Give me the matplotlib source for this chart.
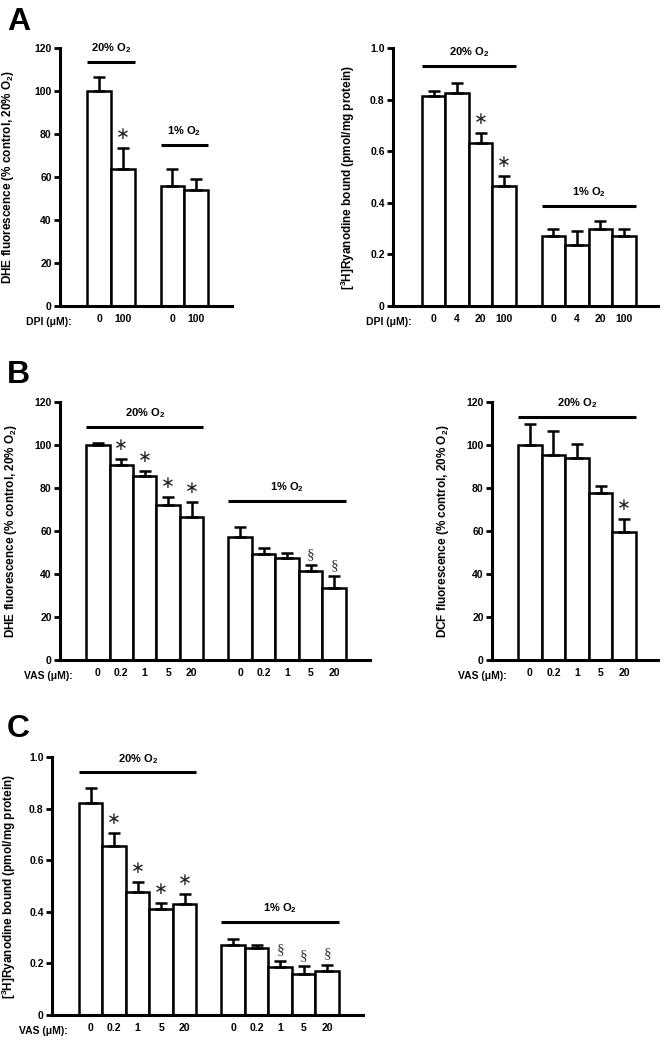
import numpy as np
import matplotlib.pyplot as plt

plt.rcParams['font.family'] = ['Liberation Sans', 'DejaVu Sans']
plt.rcParams['font.weight'] = 'bold'
plt.rcParams['axes.labelweight'] = 'bold'
plt.rcParams['mathtext.fontset'] = 'custom'
plt.rcParams['mathtext.rm'] = 'Liberation Sans:bold'
plt.rcParams['mathtext.bf'] = 'Liberation Sans:bold'
plt.rcParams['mathtext.default'] = 'bf'

# --- data ---
# A, left: DHE fluorescence vs DPI
a1_labels = ['0', '100']
a1_hi = [100, 63.5]
a1_hi_err = [6.5, 10]
a1_lo = [56, 54]
a1_lo_err = [7.5, 5]

# A, right: [3H]ryanodine binding vs DPI
a2_labels = ['0', '4', '20', '100']
a2_hi = [0.815, 0.825, 0.63, 0.465]
a2_hi_err = [0.02, 0.04, 0.04, 0.04]
a2_lo = [0.27, 0.235, 0.30, 0.27]
a2_lo_err = [0.03, 0.055, 0.028, 0.03]

# B, left: DHE fluorescence vs VAS
b1_labels = ['0', '0.2', '1', '5', '20']
b1_hi = [100, 90.5, 85.5, 72, 66.5]
b1_hi_err = [1, 3, 2.5, 4, 7]
b1_lo = [57, 49.5, 47.5, 41.5, 33.5]
b1_lo_err = [5, 2.5, 2.5, 2.5, 5.5]

# B, right: DCF fluorescence vs VAS
b2_labels = ['0', '0.2', '1', '5', '20']
b2_hi = [100, 95.5, 94, 77.5, 59.5]
b2_hi_err = [10, 11, 6.5, 3.5, 6]

# C: [3H]ryanodine binding vs VAS
c_labels = ['0', '0.2', '1', '5', '20']
c_hi = [0.82, 0.655, 0.475, 0.41, 0.43]
c_hi_err = [0.06, 0.05, 0.04, 0.025, 0.04]
c_lo = [0.27, 0.26, 0.185, 0.16, 0.17]
c_lo_err = [0.025, 0.012, 0.025, 0.028, 0.025]

HI = '20% O$_2$'
LO = '1% O$_2$'
DHE = 'DHE fluorescence (% control, 20% O$_2$)'
DCF = 'DCF fluorescence (% control, 20% O$_2$)'
RYA = '[$^3$H]Ryanodine bound (pmol/mg protein)'


def draw(ax, groups, ticklabels, ymax, step, ylabel, xname, name_x, ylab_x,
         pct=True, offset=1.15, gap=1.07, tail=1.0):
    x0 = 0
    centers = []
    for vals, errs, title, line_y, marks, sym in groups:
        n = len(vals)
        pos = x0 + np.arange(n)
        ax.bar(pos, vals, width=1, align='edge', color='white',
               edgecolor='black', lw=1.8, zorder=2)
        ax.errorbar(pos + 0.5, vals, yerr=[np.zeros(n), errs], fmt='none',
                    ecolor='black', elinewidth=1.8, capsize=4, capthick=1.8,
                    zorder=3)
        for i in marks:
            if sym == '*':
                # asterisk operator: thin six-armed star like the original
                ax.annotate('∗', (pos[i] + 0.5, vals[i] + errs[i]),
                            xytext=(0, 10), textcoords='offset points',
                            ha='center', va='center', fontsize=12,
                            fontweight='normal', family='DejaVu Sans',
                            color='#222222')
            else:
                ax.annotate('§', (pos[i] + 0.5, vals[i] + errs[i]),
                            xytext=(0, 3), textcoords='offset points',
                            ha='center', va='bottom', fontsize=11,
                            fontweight='normal', color='#333333',
                            family='Liberation Serif')
        ax.plot([pos[0], pos[-1] + 1], [line_y, line_y], color='black',
                lw=2.2, clip_on=False, solid_capstyle='butt')
        ax.annotate(title, ((pos[0] + pos[-1] + 1) / 2, line_y),
                    xytext=(0, 5), textcoords='offset points',
                    ha='center', va='bottom', fontsize=8)
        centers += list(pos + 0.5)
        x0 = pos[-1] + 1 + gap
    x_end = x0 - gap
    ax.set_xlim(-offset, x_end + tail)
    ax.set_ylim(0, ymax)
    ticks = np.arange(0, ymax + step / 2, step)
    ax.set_yticks(ticks)
    if pct:
        ax.set_yticklabels([f'{t:g}' for t in ticks])
    else:
        ax.set_yticklabels(['0'] + [f'{t:.1f}' for t in ticks[1:]])
    ax.set_xticks(centers)
    ax.set_xticklabels(ticklabels * (len(centers) // len(ticklabels)))
    ax.tick_params(axis='x', length=0, pad=6, labelsize=7.5)
    ax.tick_params(axis='y', length=4, width=2, labelsize=7.5, pad=2)
    for s in ['top', 'right']:
        ax.spines[s].set_visible(False)
    for s in ['left', 'bottom']:
        ax.spines[s].set_linewidth(2.2)
    ax.set_ylabel(ylabel, fontsize=8.5, fontweight='bold')
    ax.yaxis.set_label_coords(ylab_x, 0.5)
    ax.text(name_x, -0.062, xname, transform=ax.transAxes, ha='right',
            va='center', fontsize=7.5)


fig = plt.figure(figsize=(6.64, 10.41), dpi=100)
H = 258 / 1041

ax = fig.add_axes([60 / 664, 735 / 1041, 172 / 664, H])
draw(ax, [(a1_hi, a1_hi_err, HI, 113.5, [1], '*'),
          (a1_lo, a1_lo_err, LO, 75, [], '')],
     a1_labels, 120, 20, DHE, 'DPI (μM):', 0.07, -44 / 172)

ax = fig.add_axes([393 / 664, 735 / 1041, 265 / 664, H])
draw(ax, [(a2_hi, a2_hi_err, HI, 0.93, [2, 3], '*'),
          (a2_lo, a2_lo_err, LO, 0.388, [], '')],
     a2_labels, 1.0, 0.2, RYA, 'DPI (μM):', 0.072, -36 / 265, pct=False,
     offset=1.23, gap=1.1, tail=0.95)

ax = fig.add_axes([60 / 664, 381 / 1041, 310 / 664, H])
draw(ax, [(b1_hi, b1_hi_err, HI, 108.4, [1, 2, 3, 4], '*'),
          (b1_lo, b1_lo_err, LO, 74, [3, 4], '§')],
     b1_labels, 120, 20, DHE, 'VAS (μM):', 0.042, -41 / 310,
     offset=1.11, gap=1.07, tail=1.03)

ax = fig.add_axes([492 / 664, 381 / 1041, 166 / 664, H])
draw(ax, [(b2_hi, b2_hi_err, HI, 113, [4], '*')],
     b2_labels, 120, 20, DCF, 'VAS (μM):', 0.09, -41 / 166,
     offset=1.1, tail=0.93)

ax = fig.add_axes([52 / 664, 26 / 1041, 311 / 664, H])
draw(ax, [(c_hi, c_hi_err, HI, 0.94, [1, 2, 3, 4], '*'),
          (c_lo, c_lo_err, LO, 0.36, [2, 3, 4], '§')],
     c_labels, 1.0, 0.2, RYA, 'VAS (μM):', 0.051, -34 / 311, pct=False,
     offset=1.14, gap=1.06, tail=1.02)

for letter, y in [('A', 30), ('B', 383), ('C', 737)]:
    fig.text(7 / 664, 1 - y / 1041, letter, fontsize=23, fontweight='bold',
             va='baseline', ha='left')

fig.savefig('out.png', dpi=100)
